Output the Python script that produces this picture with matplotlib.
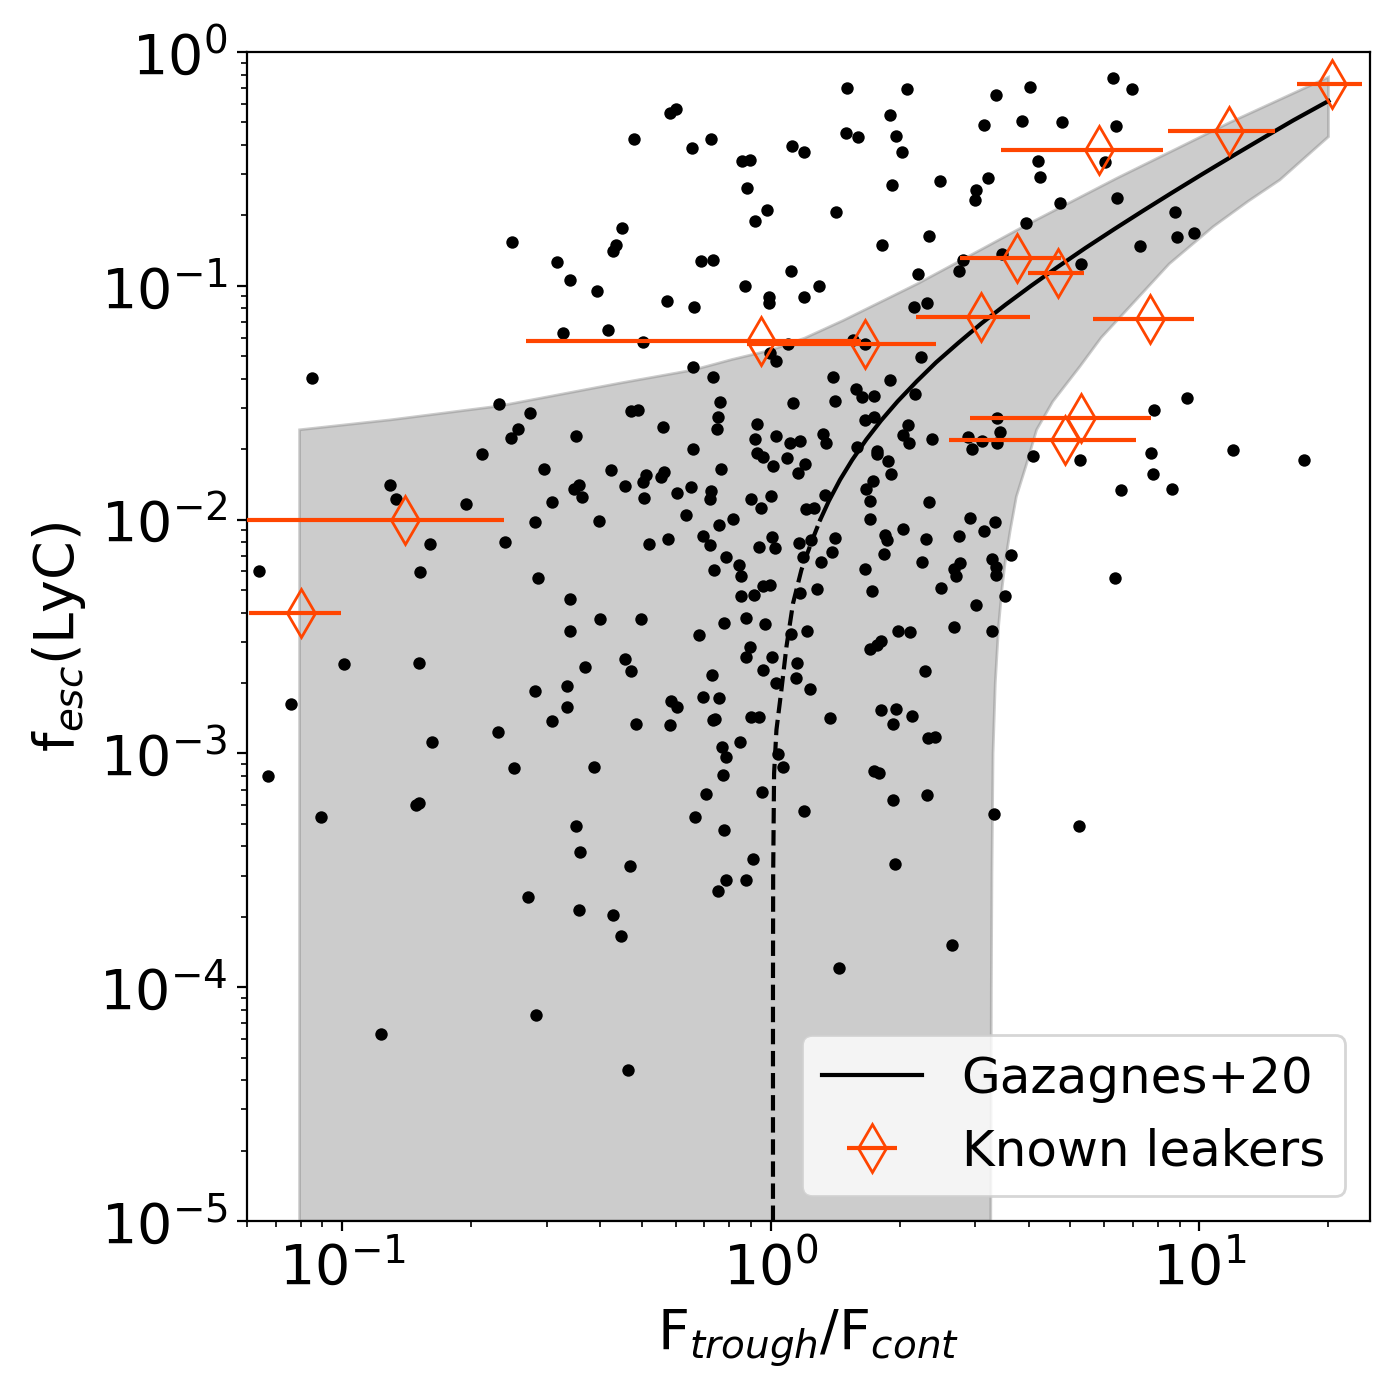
import numpy as np
import matplotlib
matplotlib.use("Agg")
import matplotlib.pyplot as plt

# sample galaxies: log10(F_trough/F_cont) and log10(f_esc)
log_ratio = [
    -0.604, -0.499, -0.469, -0.406, -0.485, -0.380, -1.071, -0.634, -0.562, -0.590, -0.605, -0.454,
    0.177, 0.318, -0.220, -0.236, -0.320, -0.184, -0.139, 0.278, 0.175, 0.204, 0.292, 0.306,
    0.497, -0.067, -0.049, 0.050, 0.078, -0.056, -0.009, -0.037, 0.152, 0.283, 0.394, 0.507,
    0.479, 0.477, -0.347, -0.362, -0.369, -0.163, -0.135, 0.047, 0.260, 0.369, -0.061, -0.004,
    -0.004, 0.078, 0.113, -0.242, -0.179, 0.344, 0.449, 0.439, 0.334, 0.365, -0.298, -0.002,
    0.012, 0.040, 0.193, 0.219, 0.350, -0.181, -0.135, 0.145, 0.278, 0.200, 0.213, 0.241,
    0.337, -0.119, 0.051, 0.150, -0.327, -0.309, -0.122, -0.125, -0.252, -0.032, 0.219, 0.241,
    0.320, 0.799, 0.843, 0.605, 0.525, 0.587, 0.680, 0.806, 0.624, 0.780, 0.628, 0.675,
    0.596, 0.808, 0.944, 0.947, 0.988, 0.862, 0.540, 0.724, 0.894, 0.972, 0.527, -0.674,
    -0.530, -0.373, -0.447, -0.459, -0.440, -0.889, -0.875, -0.710, -0.511, -0.550, -0.401, -0.796,
    -0.619, -1.194, -0.819, -0.543, -0.469, -0.399, -0.469, -0.996, -0.821, -0.433, -1.120, -0.550,
    -0.475, -0.475, -0.511, -0.636, -0.791, -1.173, -0.598, -0.412, -0.827, -0.820, -1.050, -0.037,
    0.012, 0.044, 0.068, 0.122, 0.128, 0.309, 0.323, 0.377, 0.461, 0.470, 0.492, -0.181,
    -0.033, -0.018, 0.037, 0.079, 0.005, 0.064, 0.201, 0.247, 0.248, 0.274, 0.280, -0.341,
    -0.290, -0.298, -0.250, -0.257, -0.117, -0.296, -0.219, -0.186, -0.140, -0.142, -0.198, -0.046,
    0.001, -0.023, 0.126, 0.083, 0.102, 0.239, 0.222, 0.232, 0.232, 0.369, -0.284, -0.240,
    -0.158, -0.142, -0.121, -0.088, -0.105, 0.003, 0.009, -0.028, 0.066, 0.094, 0.149, 0.143,
    0.075, 0.117, 0.266, 0.272, 0.264, 0.309, 0.362, 0.352, 0.465, 0.439, 0.497, 0.441,
    0.428, 0.431, -0.132, -0.074, -0.070, 0.219, 0.236, 0.397, 0.479, -0.018, -0.002, -0.070,
    -0.040, 0.068, 0.108, -0.303, -0.109, -0.058, -0.014, -0.168, 0.047, 0.085, 0.297, 0.325,
    0.427, 0.256, 0.247, 0.231, -0.341, -0.326, -0.049, -0.058, 0.002, -0.018, 0.061, 0.058,
    0.013, 0.091, -0.137, 0.360, -0.232, -0.218, -0.158, -0.121, -0.314, -0.236, -0.135, -0.130,
    -0.045, -0.028, 0.138, 0.257, 0.292, 0.330, 0.285, 0.367, 0.384, -0.114, -0.105, -0.072,
    0.017, 0.028, -0.111, 0.240, 0.253, -0.152, -0.020, 0.285, 0.365, -0.177, 0.078, 0.534,
    0.528, 0.612, 0.722, 0.888, 1.079, 1.245, 0.892, 0.818, 0.937, 0.524, 0.560, 0.517,
    0.525, 0.525, 0.804, 0.547, 0.517, 0.521, 0.720, -0.454, -0.444, -0.567, -0.448, -0.548,
    -0.910, -0.109, -0.328, -0.041, -0.105, -0.058, -0.123, -0.369, -0.349, 0.290, 0.423, 0.159,
    -0.333]

log_fesc = [
    -0.814, -0.899, -0.976, -1.023, -1.203, -1.190, -1.396, -1.507, -1.545, -1.612, -1.651, -1.641,
    -0.155, -0.160, -0.245, -0.262, -0.373, -0.412, -0.373, -0.271, -0.348, -0.362, -0.358, -0.429,
    -0.314, -0.466, -0.462, -0.403, -0.429, -0.583, -0.677, -0.724, -0.686, -0.570, -0.553, -0.540,
    -0.590, -0.634, -0.754, -0.825, -0.852, -0.894, -0.891, -0.938, -0.827, -0.788, -1.002, -1.047,
    -1.075, -1.049, -1.002, -1.066, -1.091, -0.951, -0.890, -0.935, -1.091, -1.075, -1.242, -1.286,
    -1.323, -1.249, -1.232, -1.250, -1.304, -1.349, -1.391, -1.391, -1.404, -1.441, -1.476, -1.471,
    -1.463, -1.498, -1.503, -1.493, -1.534, -1.531, -1.560, -1.611, -1.605, -1.592, -1.573, -1.560,
    -1.595, -0.112, -0.160, -0.151, -0.184, -0.295, -0.301, -0.318, -0.466, -0.472, -0.535, -0.647,
    -0.731, -0.626, -0.686, -0.791, -0.775, -0.831, -0.863, -0.908, -1.531, -1.481, -1.567, -1.721,
    -1.785, -1.789, -1.852, -1.870, -1.905, -1.853, -1.913, -1.933, -1.925, -2.011, -2.006, -2.106,
    -2.097, -2.221, -2.225, -2.251, -2.341, -2.426, -2.478, -2.619, -2.615, -2.632, -2.789, -2.734,
    -2.713, -2.803, -2.863, -2.910, -2.952, -3.098, -3.064, -3.059, -3.223, -3.212, -3.273, -1.655,
    -1.642, -1.671, -1.662, -1.634, -1.671, -1.637, -1.671, -1.655, -1.648, -1.698, -1.662, -1.699,
    -1.714, -1.733, -1.738, -1.763, -1.771, -1.802, -1.688, -1.705, -1.721, -1.749, -1.805, -1.856,
    -1.809, -1.838, -1.798, -1.819, -1.785, -1.909, -1.887, -1.862, -1.876, -1.913, -1.982, -1.913,
    -1.900, -1.952, -1.896, -1.956, -1.952, -1.835, -1.870, -1.920, -1.999, -1.926, -2.104, -2.084,
    -2.070, -2.110, -2.024, -1.999, -2.160, -2.076, -2.121, -2.118, -2.101, -2.087, -2.080, -2.140,
    -2.159, -2.183, -2.067, -2.087, -2.148, -2.041, -2.084, -2.183, -1.994, -2.071, -2.049, -2.184,
    -2.212, -2.241, -2.217, -2.195, -2.241, -2.212, -2.307, -2.294, -2.365, -2.284, -2.280, -2.327,
    -2.322, -2.315, -2.298, -2.426, -2.443, -2.422, -2.448, -2.495, -2.489, -2.478, -2.478, -2.482,
    -2.461, -2.518, -2.536, -2.555, -2.597, -2.649, -2.544, -2.586, -2.589, -2.643, -2.615, -2.679,
    -2.700, -2.726, -2.666, -2.649, -2.774, -2.803, -2.760, -2.764, -2.875, -2.880, -2.857, -2.854,
    -2.845, -2.845, -2.850, -2.816, -2.811, -2.840, -2.875, -2.935, -2.928, -2.971, -3.017, -2.952,
    -3.002, -3.059, -3.094, -3.074, -3.085, -3.175, -3.166, -3.199, -3.178, -3.273, -3.246, -1.624,
    -1.671, -1.728, -1.746, -1.716, -1.704, -1.746, -1.806, -1.875, -1.870, -2.011, -2.153, -2.167,
    -2.201, -2.238, -2.251, -2.327, -2.478, -3.259, -3.310, -3.309, -3.420, -3.615, -3.671, -4.120,
    -4.201, -3.330, -3.483, -3.453, -3.540, -3.543, -3.588, -3.692, -3.782, -3.474, -3.818, -3.919,
    -4.355]

# known LyC leakers
leak_ratio = [0.140, 0.0801, 0.948, 1.657, 3.10, 3.757, 4.683, 5.837, 11.74, 20.42, 7.677, 5.30, 4.855]
leak_fesc = [0.0100, 0.0040, 0.058, 0.0562, 0.0738, 0.1315, 0.1134, 0.381, 0.461, 0.732, 0.0723, 0.0271, 0.0219]
leak_err = [0.0985, 0.0195, 0.68, 0.778, 0.92, 1.0, 0.71, 2.39, 3.29, 3.55, 2.03, 2.39, 2.245]

# Gazagnes+20 relation, solid above f_esc=0.01, dashed below
gaz_x = [1.305, 1.366, 1.451, 1.549, 1.671, 1.808, 1.976, 2.19, 2.43, 2.74, 3.10, 3.53,
         4.05, 4.66, 5.42, 6.34, 7.41, 8.63, 10.15, 11.98, 14.12, 16.56, 20.0]
gaz_y = [0.010, 0.012, 0.0148, 0.018, 0.022, 0.0265, 0.032, 0.039, 0.047, 0.057, 0.069, 0.083,
         0.10, 0.12, 0.145, 0.175, 0.21, 0.25, 0.30, 0.36, 0.43, 0.51, 0.617]
gaz_x_low = [1.012, 1.012, 1.013, 1.018, 1.031, 1.059, 1.088, 1.127, 1.179, 1.244, 1.305]
gaz_y_low = [1e-5, 1e-4, 3e-4, 8.2e-4, 1.26e-3, 1.87e-3, 2.86e-3, 4.38e-3, 6.09e-3, 8e-3, 0.010]

# uncertainty band edges
band_up_x = [0.0796, 0.0796, 0.13, 0.233, 0.444, 0.659, 0.81, 1.0, 1.2, 1.475, 2.2, 3.1, 3.95,
             6.41, 11.8, 20.0]
band_up_y = [1e-5, 0.0242, 0.0267, 0.0306, 0.0383, 0.0436, 0.0483, 0.053, 0.0597, 0.071, 0.102, 0.143,
             0.182, 0.288, 0.50, 0.78]
band_lo_x = [3.26, 3.27, 3.28, 3.30, 3.34, 3.40, 3.46, 3.52, 3.62, 3.74, 3.94, 4.17, 4.55, 5.26,
             5.9, 6.88, 8.5, 10.77, 13.0, 15.4, 20.0]
band_lo_y = [1e-5, 1e-4, 3e-4, 1e-3, 2e-3, 3.5e-3, 5e-3, 6.52e-3, 9e-3, 0.01253, 0.017, 0.0242, 0.032,
             0.0451, 0.060, 0.0814, 0.124, 0.179, 0.23, 0.2835, 0.434]

fig = plt.figure(figsize=(7, 7), dpi=200)
ax = fig.add_axes([0.1764, 0.1279, 0.8022, 0.835])

# shaded region
band_x = np.concatenate([band_up_x, band_lo_x[::-1]])
band_y = np.concatenate([band_up_y, band_lo_y[::-1]])
ax.fill(band_x, band_y, color='gray', alpha=0.4, lw=1)

ax.scatter(10**np.array(log_ratio), 10**np.array(log_fesc), s=20, c='k', linewidths=0, zorder=3)

ax.plot(gaz_x, gaz_y, 'k-', lw=1.5, label='Gazagnes+20', zorder=4)
ax.plot(gaz_x_low, gaz_y_low, 'k--', lw=1.5, zorder=4)

ax.errorbar(leak_ratio, leak_fesc, xerr=leak_err, fmt='d', color='orangered', mfc='none',
            ms=12, lw=1.5, label='Known leakers', zorder=5)

ax.set_xscale('log')
ax.set_yscale('log')
ax.set_xlim(0.06, 25)
ax.set_ylim(1e-5, 1)

ax.set_xlabel(r'F$_{trough}$/F$_{cont}$', fontsize=20)
ax.set_ylabel(r'f$_{esc}$(LyC)', fontsize=20)
ax.tick_params(labelsize=20)
ax.legend(loc='lower right', fontsize=18)

fig.savefig('out.png', dpi=200)
